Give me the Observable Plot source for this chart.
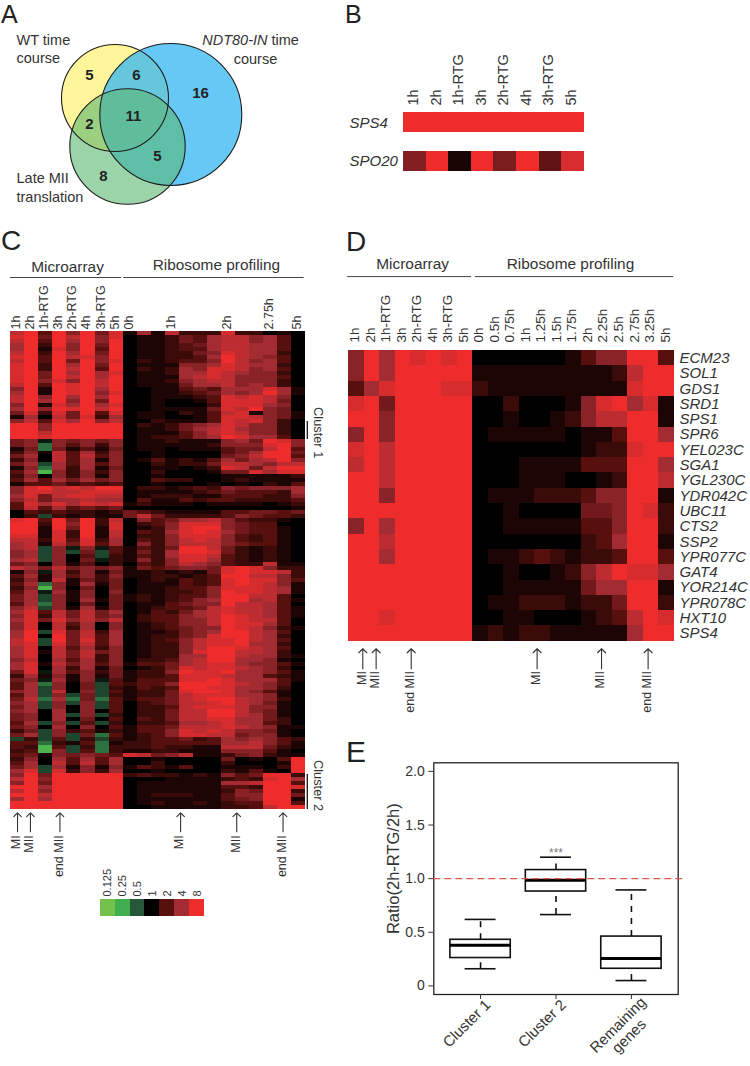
<!DOCTYPE html>
<html>
<head>
<meta charset="utf-8">
<script src="https://cdn.jsdelivr.net/npm/d3@7"></script>
<script src="https://cdn.jsdelivr.net/npm/@observablehq/plot@0.6"></script>
<style>
html,body{margin:0;padding:0;background:#fff}
#page{position:relative;width:750px;height:1066px;overflow:hidden;font-family:"Liberation Sans",Arial,sans-serif;color:#222}
#page svg{position:absolute;background:transparent;max-width:none}
.letter{position:absolute;line-height:1;font-size:27px}
</style>
</head>
<body>
<div id="page"></div>
<script>
// ---------- Panel A ----------
const vennSets = [
  {name:"WT", cx:114.5, cy:97.5, radius:53.5, fill:"#fff59a", opacity:1},
  {name:"NDT80", cx:170.3, cy:114, radius:71, fill:"#33b6f2", opacity:.75},
  {name:"Late", cx:127, cy:146, radius:57.7, fill:"#5ab771", opacity:.6}
];
const vennCounts = [
  {n:"5",x:89,y:75},{n:"6",x:136,y:75},{n:"16",x:200,y:93},{n:"11",x:133,y:116},
  {n:"2",x:89,y:124},{n:"5",x:157,y:156},{n:"8",x:103,y:176}
];
const vennLabelsLeft = [
  {t:"WT time\ncourse",x:16,y:47.5},
  {t:"Late MII\ntranslation",x:16,y:186}
];
const vennLabelItalic = [{t:"NDT80-IN",x:267,y:38}];
const vennLabelTime = [{t:"time",x:271,y:38}];
const vennLabelCourse = [{t:"course",x:255,y:57}];
// ---------- Panel B ----------
const genesB = ["SPS4","SPO20"];
const colsB = ["1h","2h","1h-RTG","3h","2h-RTG","4h","3h-RTG","5h"];
const sps4B = [3,3,3,3,3,3,3,3];
const spo20B = [1.55,3,0.3,3,1.45,3,1.1,2.7];
// ---------- Heatmap levels: digit d = log2 ratio d/3; g h i j = green shades ----------
const greens = {g:-0.3,h:-0.8,i:-1.3,j:-2.3};
const legendFolds = [0.125,0.25,0.5,1,2,4,8];
const legendColors = ["#72c14a","#3fae4f","#26573a","#000000","#58100f","#a32c33","#ef2c2c"];
const colorScale = {type:"linear",domain:legendFolds.map(Math.log2),range:legendColors,interpolate:"rgb"};
// ---------- Panel C ----------
const microLabels = ["1h","2h","1h-RTG","3h","2h-RTG","4h","3h-RTG","5h"];
const riboLabelsC = ["0h","","","1h","","","","2h","","","2.75h","","5h"];
const heatC1 = ["793959481617222822010","894979580112436775630","793969590112436775630","692959490112346776630","691859390112336776630","792969490112245876620","893978590112236976530","793949580212335975630","892969490111556876620","892979390212658875630","894969680112668765520","894979690111678755530","895859790112567755520","793989790111466756520","591989690011343666861","691989580011234656961","795969690011123878750","796959490010013888740","591869680010002888650","695989790011114879540","482849380110213781541","160748260110013887541","573869570021113878520","995999990212456875520","995999990112467865520","997999990111357875520","998999990122356986630","45g545450112111564985","45i535250111112555895","14i413140110111344793"];
const heatC2 = ["251736250010000346994","460737350010000457993","250736150131213646795","46h636350021224776577","15i626140011012874799","36j525250020001448688","250525150010000111112","363646450032200121111","133423230010001010213","589787990221232545556","588778880111123433326","684788770122211333225","574667660311323322223","386868781211101111012","373634340000000000001","032322124321111334434","02h212114742222354332","893949270534667532210","992959280235888543300","991949180125899543310","991829170326898643310","881829170225888532310","772838260325787532310","671748360525777543310","67h5g5g31324997421210","56h5h4h31426998421210","56h503h21326887321210","67h504g21525886321210","450513020325765322711","764745451434554898522"];
const heatC3 = ["15g625141121214898872","361635251122123997752","251714240121323898853","36i516140111323898751","25j504040112335888761","36g615050112235988761","46h515041212335997730","46h516141212356996731","36i504040113455977630","57h516140123347877631","683747460132467877631","582747450233567987631","684857570233557987730","580736050123557988630","580726050123455987521","69h847260112456997630","690947360122458997620","79h948360123578897630","78h847360122578896620","680736250122579987630","681747450122589977620","680747250122669976621","570636250223679966510","681746351334678865531","680626140124878876520","48g635241225988966531","261515141223888766321","45g615g31333889866631","36i504h32335999876530","36h504h21323998866520"];
const heatC4 = ["56h705h31224899865310","36h5h4h21224788866510","47i6i4i31334789976520","56h5h5h30234778976410","46h505h30223788875510","560605030224779975410","4506h5h20224779976410","450604030324778866420","36h5h3h20223667866320","450605031334777876511","24h523121335878755410","46h5h4i31235887745510","h2h3h2h21233423656532","33i213i12233333667531","32j3h2i22232211777421","23j5h3i21122111555310","341545438745711245211","250636360010000401039","360737360020000200019","46h615151321300111029","68h825260010000213109","594999992322121534992","795999990001111232896","594999990111111667993","996999990111111332998","795999990111111254992","997999990122211355994","696999990111111345991","999999990121121233993","999999990011111223799"];
const headersC = [
  {t:"Microarray",x1:-0.02,x2:7.9,cx:4.04,y:-13.56,dy:-5.5},
  {t:"Ribosome profiling",x1:8.05,x2:20.9,cx:14.65,y:-13.56,dy:-7.5}
];
const stagesC = [
  {t:"MI",x:0.48},{t:"MII",x:1.4},{t:"end MII",x:3.5},
  {t:"MI",x:12.1},{t:"MII",x:16.1},{t:"end MII",x:19.4}
];
const clustersC = [
  {t:"Cluster 1",x:21.13,tx:21.87,y1:22.6,y2:27.1,ty:25.4},
  {t:"Cluster 2",x:21.13,tx:21.87,y1:111.2,y2:120,ty:114}
];
// ---------- Panel D ----------
const genesD = ["ECM23","SOL1","GDS1","SRD1","SPS1","SPR6","YEL023C","SGA1","YGL230C","YDR042C","UBC11","CTS2","SSP2","YPR077C","GAT4","YOR214C","YPR078C","HXT10","SPS4"];
const riboLabelsD = ["0h","0.5h","0.75h","1h","1.25h","1.5h","1.75h","2h","2.25h","2.5h","2.75h","3.25h","5h"];
const heatD = ["596989890000001355993","596999991111111112799","368999882111111111899","894999990020001589681","995999990010012577991","595999990111110113996","897999990000000122899","797999990001111333996","997999990001110012997","995999990111222355991","999999990010000445982","596999990011111335992","997999990000000236991","996999990112321223993","999999990010012579886","999999990011111466991","999999990112221224992","998999990011000123798","999999991212211111699"];
const headersD = [
  {t:"Microarray",x1:-0.06,x2:7.93,cx:4.13,y:-4.83,dy:-8},
  {t:"Ribosome profiling",x1:8.18,x2:20.94,cx:14.3,y:-4.83,dy:-8}
];
const stagesD = [
  {t:"MI",x:0.92},{t:"MII",x:1.78},{t:"end MII",x:4.04},
  {t:"MI",x:12.15},{t:"MII",x:16.3},{t:"end MII",x:19.3}
];
// ---------- Panel E ----------
const boxNames = ["Cluster 1","Cluster 2","Remaining\ngenes"];
const boxPos = [1,2,3];
const boxLow = [0.16,0.665,0.05];
const boxQ1 = [0.26,0.88,0.16];
const boxMed = [0.38,0.985,0.255];
const boxQ3 = [0.43,1.08,0.46];
const boxHigh = [0.62,1.2,0.895];
const boxLabelDx = [-14,-14,-8];
const boxLabelDy = [29,29,36];
const yTicksE = [0,0.5,1,1.5,2];

const page = document.getElementById("page");
const ink = "#333";
const font = '"Liberation Sans",Arial,sans-serif';
function place(svg,left,top){svg.style.left=left+"px";svg.style.top=top+"px";page.appendChild(svg);return svg;}
function soften(svg,label,amount){const g=svg.querySelector(`g[aria-label="${label}"]`);if(g)g.style.filter=`blur(${amount}px)`;}
function letter(t,left,baseline,size){
  const s=document.createElement("span");s.className="letter";s.textContent=t;
  s.style.left=left+"px";s.style.fontSize=size+"px";s.style.top=(baseline-0.8465*size)+"px";page.appendChild(s);
}
const val = ch => ch in greens ? greens[ch] : (+ch)/3;
function cells(rows){
  const out=[];
  rows.forEach((row,r)=>[...row].forEach((ch,c)=>out.push({r,c,v:val(ch)})));
  return out;
}
function heatPlot(o){
  const rows=o.rows, ticks=d3.range(21).map(i=>i+.5), labels=[...microLabels,...o.ribo];
  return Plot.plot({
    width:o.w,height:o.h,
    marginLeft:o.ml,marginRight:o.w-o.fr,marginTop:o.mt,marginBottom:o.h-o.fb,
    x:{domain:[0,21]},y:{domain:[0,rows.length],reverse:true,axis:null},
    color:colorScale,
    style:{fontFamily:font,color:ink,background:"transparent"},
    marks:[
      Plot.rect(cells(rows),{x1:"c",x2:d=>d.c+1,y1:"r",y2:d=>d.r+1,fill:"v",shapeRendering:"crispEdges"}),
      Plot.axisX({anchor:"top",ticks,tickFormat:t=>labels[t-.5],tickRotate:-90,tickSize:0,tickPadding:o.tp,dx:-1.5,fontSize:o.tf,label:null,fill:ink}),
      Plot.ruleY(o.headers,{y:"y",x1:"x1",x2:"x2",stroke:"#444",strokeWidth:1}),
      ...o.headers.map(h=>Plot.text([h],{x:"cx",y:"y",text:"t",lineAnchor:"bottom",dy:h.dy,fontSize:15.4,fill:ink})),
      Plot.vector(o.stages,{x:"x",y:o.tail,length:o.len,rotate:0,anchor:"start",shape:"arrow",stroke:ink,strokeWidth:1.1}),
      Plot.text(o.stages,{x:"x",y:o.label,text:"t",rotate:-90,textAnchor:"end",dx:-1.2,fontSize:12.5,fill:ink}),
      ...(o.extra||[])
    ]
  });
}

// A
const labelA = {fontSize:14.5,fill:ink,lineHeight:1.3};
place(Plot.plot({
  width:340,height:225,margin:0,
  x:{domain:[0,340],axis:null},y:{domain:[0,225],reverse:true,axis:null},r:{type:"identity"},
  style:{fontFamily:font,background:"transparent"},
  marks:[
    ...vennSets.map(s=>Plot.dot([s],{x:"cx",y:"cy",r:"radius",fill:s.fill,fillOpacity:s.opacity,stroke:null})),
    Plot.dot(vennSets,{x:"cx",y:"cy",r:"radius",stroke:"#1c1c1c",strokeWidth:1.1}),
    Plot.text(vennCounts,{x:"x",y:"y",text:"n",fontSize:15,fontWeight:"bold",fill:"#222"}),
    Plot.text(vennLabelsLeft,{x:"x",y:"y",text:"t",textAnchor:"start",...labelA}),
    Plot.text(vennLabelItalic,{x:"x",y:"y",text:"t",textAnchor:"end",fontStyle:"italic",...labelA}),
    Plot.text(vennLabelTime,{x:"x",y:"y",text:"t",textAnchor:"start",...labelA}),
    Plot.text(vennLabelCourse,{x:"x",y:"y",text:"t",textAnchor:"middle",...labelA})
  ]
}),0,0);

// B
const cellsB=[...colsB.map((c,i)=>({g:genesB[0],c,v:sps4B[i]})),...colsB.map((c,i)=>({g:genesB[1],c,v:spo20B[i]}))];
soften(place(Plot.plot({
  width:280,height:190,marginLeft:63,marginRight:280-243.7,marginTop:112,marginBottom:19,
  x:{domain:colsB,padding:0,round:false},y:{domain:genesB,paddingInner:.47,paddingOuter:0,round:false,axis:null},color:colorScale,
  style:{fontFamily:font,color:ink,background:"transparent"},
  marks:[
    Plot.cell(cellsB,{x:"c",y:"g",fill:"v",shapeRendering:"crispEdges"}),
    Plot.axisX({anchor:"top",tickRotate:-90,tickSize:0,tickPadding:7,dx:-1.5,fontSize:14.5,label:null,fill:ink}),
    Plot.text(genesB,{y:d=>d,text:d=>d,frameAnchor:"left",textAnchor:"start",dx:-54,fontStyle:"italic",fontSize:15,fill:ink})
  ]
}),340,0),"cell",0.5);

// C
soften(place(heatPlot({
  rows:[...heatC1,...heatC2,...heatC3,...heatC4],ribo:riboLabelsC,
  w:340,h:700,ml:10.3,fr:305,mt:106,fb:584,tp:2,tf:12.5,
  headers:headersC,stages:stagesC,tail:125.6,label:126.5,len:19,
  extra:[
    Plot.ruleX(clustersC,{x:"x",y1:"y1",y2:"y2",stroke:"#222",strokeWidth:1.4}),
    Plot.text(clustersC,{x:"tx",y:"ty",text:"t",rotate:90,fontSize:12.8,fill:ink})
  ]
}),0,225),"rect",0.6);

// Legend of C
soften(place(Plot.plot({
  width:125,height:70,marginLeft:9.7,marginRight:11,marginTop:49,marginBottom:4,
  x:{domain:legendFolds.map(String),padding:0,round:false},y:{domain:[0,1],axis:null},color:colorScale,
  style:{fontFamily:font,color:ink,background:"transparent"},
  marks:[
    Plot.barY(legendFolds,{x:d=>String(d),y:()=>1,fill:d=>Math.log2(d),inset:0,shapeRendering:"crispEdges"}),
    Plot.axisX({anchor:"top",tickRotate:-90,tickSize:0,tickPadding:3,fontSize:11,label:null,fill:ink})
  ]
}),90,850),"bar",0.4);

// D
soften(place(heatPlot({
  rows:heatD,ribo:riboLabelsD,
  w:410,h:505,ml:8,fr:334,mt:125,fb:415.7,tp:8,tf:13.5,
  headers:headersD,stages:stagesD,tail:20.8,label:20.95,len:20,
  extra:[
    Plot.text(genesD,{x:21,y:(d,i)=>i+.5,text:d=>d,textAnchor:"start",dx:5,fontStyle:"italic",fontSize:15,fill:ink})
  ]
}),340,225),"rect",0.5);

// E
const boxes=boxPos.map((p,i)=>({p,name:boxNames[i],low:boxLow[i],q1:boxQ1[i],med:boxMed[i],q3:boxQ3[i],high:boxHigh[i],dx:boxLabelDx[i],dy:boxLabelDy[i]}));
place(Plot.plot({
  width:380,height:336,marginLeft:73.3,marginRight:62.3,marginTop:32.3,marginBottom:72,
  x:{domain:[0.38,3.62]},y:{domain:[-0.08,2.08]},
  style:{fontFamily:font,color:ink,background:"transparent"},
  marks:[
    Plot.frame({stroke:"#222",strokeWidth:1.3}),
    Plot.axisY({ticks:yTicksE,tickFormat:d=>d===0?"0":d.toFixed(1),tickSize:5,tickPadding:4,fontSize:14,label:null,fill:ink}),
    Plot.axisX({ticks:boxPos,tickFormat:()=>"",tickSize:5,label:null}),
    Plot.text(["Ratio(2h-RTG/2h)"],{frameAnchor:"left",textAnchor:"middle",dx:-40,dy:-10,rotate:-90,text:d=>d,fontSize:16.5,fill:ink}),
    Plot.ruleX(boxes,{x:"p",y1:"q3",y2:"high",stroke:"#111",strokeWidth:1.6,strokeDasharray:"6,6"}),
    Plot.ruleX(boxes,{x:"p",y1:"low",y2:"q1",stroke:"#111",strokeWidth:1.6,strokeDasharray:"6,6"}),
    Plot.ruleY(boxes,{y:"high",x1:d=>d.p-.205,x2:d=>d.p+.205,stroke:"#111",strokeWidth:1.6}),
    Plot.ruleY(boxes,{y:"low",x1:d=>d.p-.205,x2:d=>d.p+.205,stroke:"#111",strokeWidth:1.6}),
    Plot.rect(boxes,{x1:d=>d.p-.4,x2:d=>d.p+.4,y1:"q1",y2:"q3",fill:"white",stroke:"#111",strokeWidth:1.6}),
    Plot.ruleY(boxes,{y:"med",x1:d=>d.p-.4,x2:d=>d.p+.4,stroke:"#000",strokeWidth:3}),
    Plot.ruleY([1],{x1:0.38,x2:3.72,stroke:"#d9574c",strokeWidth:1.2,strokeDasharray:"7,4"}),
    Plot.text(["***"],{x:2,y:1.24,text:d=>d,fontSize:12,fill:"#777"}),
    ...boxes.map(b=>Plot.text([b],{x:"p",text:"name",frameAnchor:"bottom",textAnchor:"middle",lineAnchor:"middle",rotate:-45,dx:b.dx,dy:b.dy,fontSize:15,fill:ink,lineHeight:1.05}))
  ]
}),360,730);

letter("A",1,23,25);letter("B",345,23,25);letter("C",1,251,28);letter("D",346,252,28);letter("E",346,762,30);
</script>
</body>
</html>
